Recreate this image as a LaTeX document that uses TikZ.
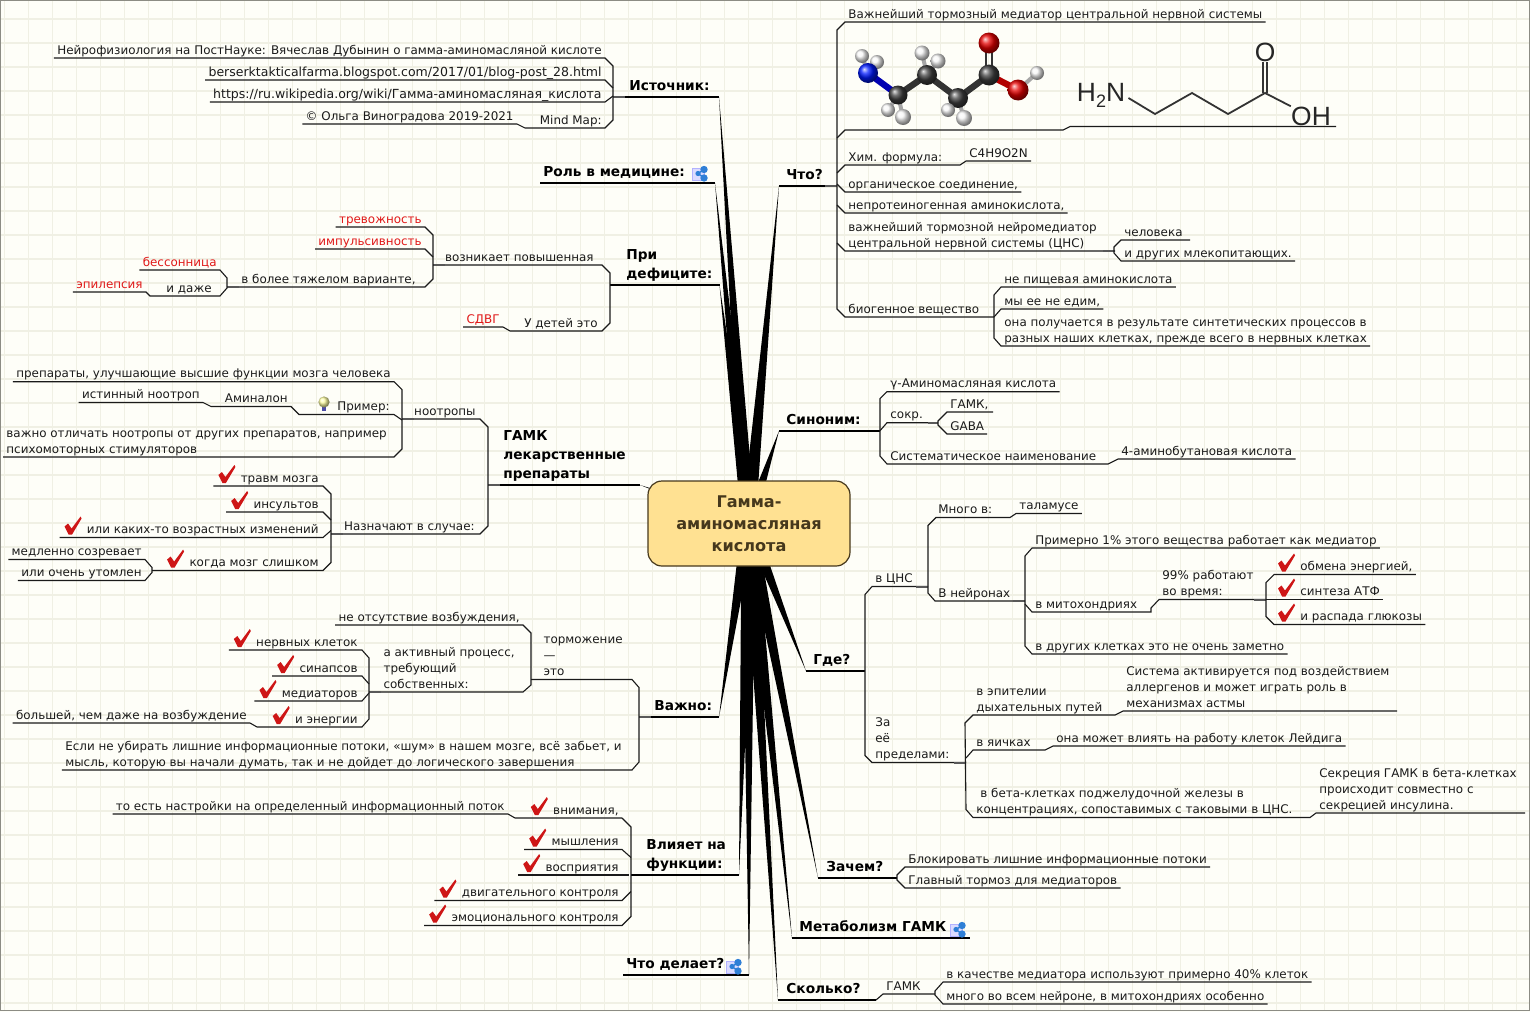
\documentclass[tikz,border=0pt]{standalone}
\usepackage{fontspec}
\setmainfont{DejaVu Sans}
\newfontfamily\chemfont{Liberation Sans}
\usetikzlibrary{calc}

\definecolor{paper}{HTML}{FEFEF8}
\definecolor{gridtone}{HTML}{F0F0E4}
\definecolor{edgegray}{HTML}{8C8C84}
\definecolor{ink}{HTML}{1A1A1A}
\definecolor{alarmred}{HTML}{E01818}
\definecolor{rootfill}{HTML}{FFE192}
\definecolor{rootink}{HTML}{46381C}
\definecolor{linkblue}{HTML}{2F7FD6}

\tikzset{
  leaf/.style={font=\fontsize{5.96}{8}\selectfont, text=ink, inner xsep=1.5pt, inner ysep=0pt, text depth=1.7pt, align=left},
  lleaf/.style={leaf, anchor=south east},
  rleaf/.style={leaf, anchor=south west},
  redleaf/.style={lleaf, text=alarmred},
  urlleaf/.style={lleaf, font=\fontsize{6.26}{8}\selectfont},
  topic/.style={font=\bfseries\fontsize{6.85}{9.6}\selectfont, text=black, inner xsep=1.5pt, inner ysep=0pt, text depth=2.9pt, align=left, anchor=south west},
  rootbox/.style={draw=rootink, line width=0.6pt, fill=rootfill, rounded corners=7pt, minimum width=101pt, minimum height=42.5pt, align=center, text=rootink, font=\bfseries\fontsize{8.05}{11}\selectfont},
  twig/.style={draw=ink, line width=0.55pt},
  stem/.style={draw=black, line width=0.62pt},
  stub/.style={draw=black!65, line width=1pt},
  gridline/.style={draw=gridtone, line width=0.9pt},
  bond/.style={draw=black!80, line width=3.2pt},
  chemline/.style={draw=black!80, line width=0.9pt},
  chemtext/.style={font=\chemfont\fontsize{13.2}{13.2}\selectfont, text=black!85, inner sep=0pt},
  redtick/.pic={\fill[alarmred!92!black] (-18,-10) -- (-14.5,-13) -- (-11,-8) -- (-2,-20) -- (-1,-18) -- (-10.5,-2) -- (-14,-2) -- cycle;},
  shareicon/.pic={
    \fill[blue!14!white, draw=blue!30!white, line width=0.4pt] (0,2) rectangle (12,14);
    \draw[linkblue, line width=0.7pt] (12,3.5) -- (6,7.5) -- (12,12);
    \fill[linkblue] (12,3.5) circle (3.7) (6,7.5) circle (2.6) (12,12) circle (3.7);
  },
  bulbicon/.pic={
    \fill[blue!50!black!70] (-2.2,5) rectangle (2.2,9);
    \shade[ball color=yellow!35!white] (0,0) circle (5.6);
  }
}

\begin{document}
\begin{tikzpicture}[x=0.5pt, y=-0.5pt]
  \useasboundingbox (0,0) rectangle (1530,1012);

  % Paper and grid
  \fill[paper] (0,0) rectangle (1530,1012);
  \foreach \gx in {4.5,28.5,...,1530} {\draw[gridline] (\gx,0) -- (\gx,1010);}
  \foreach \gy in {19.3,43.3,...,1010} {\draw[gridline] (0,\gy) -- (1530,\gy);}
  \draw[edgegray, line width=0.7pt] (0.5,0.5) rectangle (1529.5,1010.5);

  % Where the main branches end
  \coordinate (hub) at (748.5,523);
  \coordinate (srcTip) at (719,97);
  \coordinate (roleTip) at (715,183);
  \coordinate (lackTip) at (719.5,285);
  \coordinate (drugTip) at (640,485);
  \coordinate (mainTip) at (719,717);
  \coordinate (funcTip) at (739,875);
  \coordinate (doesTip) at (749,975);
  \coordinate (whatTip) at (779,186);
  \coordinate (synTip) at (779,431);
  \coordinate (whereTip) at (806,671);
  \coordinate (whyTip) at (818,878);
  \coordinate (metaTip) at (792,938);
  \coordinate (howTip) at (778,1000);

  % Tapered branches, left side
  \fill (srcTip) -- ($(hub)+(-7,0)$) -- ($(hub)+(7,0)$) -- cycle;
  \fill (roleTip) -- ($(hub)+(-7,0)$) -- ($(hub)+(7,0)$) -- cycle;
  \fill (lackTip) -- ($(hub)+(-7,0)$) -- ($(hub)+(7,0)$) -- cycle;
  \fill (drugTip) -- ($(hub)+(0,-5)$) -- ($(hub)+(0,5)$) -- cycle;
  \fill (mainTip) -- ($(hub)+(-7,0)$) -- ($(hub)+(7,0)$) -- cycle;
  \fill (funcTip) -- ($(hub)+(-7,0)$) -- ($(hub)+(7,0)$) -- cycle;
  \fill (doesTip) -- ($(hub)+(-7,0)$) -- ($(hub)+(7,0)$) -- cycle;

  % Tapered branches, right side
  \fill (whatTip) -- ($(hub)+(-7,0)$) -- ($(hub)+(7,0)$) -- cycle;
  \fill (synTip) -- ($(hub)+(-7,0)$) -- ($(hub)+(7,0)$) -- cycle;
  \fill (whereTip) -- ($(hub)+(-7,0)$) -- ($(hub)+(7,0)$) -- cycle;
  \fill (whyTip) -- ($(hub)+(-7,0)$) -- ($(hub)+(7,0)$) -- cycle;
  \fill (metaTip) -- ($(hub)+(-7,0)$) -- ($(hub)+(7,0)$) -- cycle;
  \fill (howTip) -- ($(hub)+(-7,0)$) -- ($(hub)+(7,0)$) -- cycle;

  % Central topic
  \node[rootbox] (root) at (749,523.5) {Гамма-\\аминомасляная\\кислота};

  % Source
  \node[topic] (src) at (626,97) {Источник:};
  \node[lleaf] (srcNeuro) at (605,58) {Нейрофизиология на ПостНауке: Вячеслав Дубынин о гамма-аминомасляной кислоте};
  \node[urlleaf] (srcBlog) at (605,80) {berserktakticalfarma.blogspot.com/2017/01/blog-post\_28.html};
  \node[urlleaf] (srcWiki) at (605,102) {https://ru.wikipedia.org/wiki/Гамма-аминомасляная\_кислота};
  \node[lleaf] (srcMap) at (605,128) {Mind Map:};
  \node[lleaf] (srcAuthor) at (517,124) {© Ольга Виноградова 2019-2021};
  \draw[stem] ($(srcTip)+(-106,0)$) -- (srcTip);
  \draw[stub] ($(srcTip)+(-106,0)$) -- ++(12,0);
  \draw[twig] (srcNeuro.south west) -- (srcNeuro.south east) -- ++(8,8) -- ($(srcMap.south east)+(8,-8)$) -- (srcMap.south east) -- ++(-80,0) -- (srcAuthor.south east) -- (srcAuthor.south west);
  \draw[twig] (srcBlog.south west) -- (srcBlog.south east) -- ++(8,8);
  \draw[twig] (srcWiki.south west) -- (srcWiki.south east) -- ++(8,-6);

  % Role in medicine
  \node[topic] (role) at (540,183) {Роль в медицине:};
  \draw[stem] (role.south west) -- (roleTip);
  \pic at (692,166) {shareicon};

  % Deficit
  \node[topic] (lack) at (623,285) {При\\дефиците:};
  \node[lleaf] (lackRise) at (597,265) {возникает повышенная};
  \node[lleaf] (lackKids) at (601,331) {У детей это};
  \node[redleaf] (lackAdhd) at (503,327) {СДВГ};
  \node[redleaf] (lackFear) at (425,227) {тревожность};
  \node[redleaf] (lackImp) at (425,249) {импульсивность};
  \node[lleaf] (lackHard) at (419,287) {в более тяжелом варианте,};
  \node[redleaf] (lackSleep) at (220,270) {бессонница};
  \node[lleaf] (lackEven) at (215,296) {и даже};
  \node[redleaf] (lackFit) at (146,292) {эпилепсия};
  \draw[stem] ($(lackTip)+(-109.5,0)$) -- (lackTip);
  \draw[twig] ($(lackRise.south east)+(-164,0)$) -- ($(lackRise.south east)+(5,0)$) -- ++(8,8) -- ($(lackKids.south east)+(9,-8)$) -- ($(lackKids.south east)+(1,0)$) -- ++(-92,0) -- (lackAdhd.south east) -- (lackAdhd.south west);
  \draw[stub] ($(lackRise.south east)+(-164,0)$) -- ++(12,0);
  \draw[twig] (lackFear.south west) -- (lackFear.south east) -- ++(8,8) -- ($(lackHard.south east)+(14,-8)$) -- ($(lackHard.south east)+(6,0)$) -- ++(-198,0);
  \draw[stub] ($(lackHard.south east)+(-192,0)$) -- ++(12,0);
  \draw[twig] (lackImp.south west) -- (lackImp.south east) -- ++(8,8);
  \draw[twig] (lackSleep.south west) -- (lackSleep.south east) -- ++(7,8) -- ++(0,10) -- ($(lackEven.south east)+(5,0)$) -- ++(-70,0) -- (lackFit.south east) -- (lackFit.south west);

  % GABA drugs
  \node[topic] (drug) at (500,485) {ГАМК\\лекарственные\\препараты};
  \node[lleaf] (drugNoot) at (479,419) {ноотропы};
  \node[lleaf] (drugCase) at (478,534) {Назначают в случае:};
  \node[lleaf] (nootBest) at (394,381.7) {препараты, улучшающие высшие функции мозга человека};
  \node[lleaf] (nootDemo) at (393,414.5) {Пример:};
  \node[lleaf] (nootAmin) at (291,406.5) {Аминалон};
  \node[lleaf] (nootTrue) at (203,402.5) {истинный ноотроп};
  \node[lleaf] (nootNote) at (390,457) {важно отличать ноотропы от других препаратов, например\\психомоторных стимуляторов};
  \node[lleaf] (caseHurt) at (322,486) {травм мозга};
  \node[lleaf] (caseStroke) at (322,512) {инсультов};
  \node[lleaf] (caseAge) at (322,537.5) {или каких-то возрастных изменений};
  \node[lleaf] (caseTired) at (322,570.5) {когда мозг слишком};
  \node[lleaf] (caseSlow) at (145,559.5) {медленно созревает};
  \node[lleaf] (caseWorn) at (145,580.5) {или очень утомлен};
  \draw[stem] ($(drugTip)+(-152,0)$) -- (drugTip);
  \draw[stub] ($(drugTip)+(-152,0)$) -- ++(12,0);
  \draw[twig] ($(drugNoot.south east)+(-77,0)$) -- ($(drugNoot.south east)+(1,0)$) -- ++(8,8) -- ($(drugCase.south east)+(10,-8)$) -- ($(drugCase.south east)+(2,0)$) -- ++(-149,0);
  \draw[stub] ($(drugNoot.south east)+(-77,0)$) -- ++(12,0);
  \draw[stub] ($(drugCase.south east)+(-147,0)$) -- ++(12,0);
  \draw[twig] (nootBest.south west) -- (nootBest.south east) -- ++(8,8) -- ($(nootNote.south east)+(12,-8)$) -- ($(nootNote.south east)+(4,0)$) -- (nootNote.south west);
  \draw[twig] ($(nootDemo.south east)+(9,5.5)$) -- ($(nootDemo.south east)+(1,0)$) -- ++(-95,0) -- (nootAmin.south east) -- ++(-80,0) -- (nootTrue.south east) -- (nootTrue.south west);
  \pic at (324,402) {bulbicon};
  \draw[twig] ($(caseHurt.south west)+(-24,0)$) -- ($(caseHurt.south east)+(1,0)$) -- ++(8,8) -- ($(caseTired.south east)+(9,-8)$) -- ($(caseTired.south east)+(1,0)$) -- ++(-171,0);
  \draw[twig] ($(caseStroke.south west)+(-24,0)$) -- ($(caseStroke.south east)+(1,0)$) -- ++(8,8);
  \draw[twig] ($(caseAge.south west)+(-24,0)$) -- ($(caseAge.south east)+(1,0)$) -- ++(8,-7);
  \draw[twig] (caseSlow.south west) -- (caseSlow.south east) -- ++(7,8) -- ++(0,5) -- (caseWorn.south east) -- (caseWorn.south west);
  \pic at ($(caseHurt.south west)+(-1,-1)$) {redtick};
  \pic at ($(caseStroke.south west)+(-1,-1)$) {redtick};
  \pic at ($(caseAge.south west)+(-1,-1)$) {redtick};
  \pic at ($(caseTired.south west)+(-1,-1)$) {redtick};

  % Important
  \node[topic] (main) at (651,717) {Важно:};
  \node[lleaf] (mainBrake) at (626,679.5) {торможение\\—\\это};
  \node[lleaf] (mainNoise) at (625,770) {Если не убирать лишние информационные потоки, «шум» в нашем мозге, всё забьет, и\\мысль, которую вы начали думать, так и не дойдет до логического завершения};
  \node[lleaf] (brakeNot) at (523,625) {не отсутствие возбуждения,};
  \node[lleaf] (brakeAct) at (518,692) {а активный процесс,\\требующий\\собственных:};
  \node[lleaf] (actCell) at (361,650) {нервных клеток};
  \node[lleaf] (actSyn) at (361,676) {синапсов};
  \node[lleaf] (actMed) at (361,701) {медиаторов};
  \node[lleaf] (actPow) at (361,727) {и энергии};
  \node[lleaf] (actMore) at (250,723) {большей, чем даже на возбуждение};
  \draw[stem] ($(mainTip)+(-80,0)$) -- (mainTip);
  \draw[stub] ($(mainTip)+(-80,0)$) -- ++(12,0);
  \draw[twig] ($(mainBrake.south east)+(-95,0)$) -- ($(mainBrake.south east)+(6,0)$) -- ++(7,8) -- ($(mainNoise.south east)+(14,-8)$) -- ($(mainNoise.south east)+(7,0)$) -- (mainNoise.south west);
  \draw[twig] (brakeNot.south west) -- (brakeNot.south east) -- ++(8,8) -- ($(brakeAct.south east)+(13,-7)$) -- ($(brakeAct.south east)+(5,0)$) -- ++(-154,0);
  \draw[stub] ($(brakeAct.south east)+(-149,0)$) -- ++(12,0);
  \draw[twig] ($(actCell.south west)+(-24,0)$) -- ($(actCell.south east)+(1,0)$) -- ++(7,8) -- ($(actPow.south east)+(8,-8)$) -- ($(actPow.south east)+(1,0)$) -- ++(-105,0) -- (actMore.south east) -- (actMore.south west);
  \draw[twig] ($(actSyn.south west)+(-24,0)$) -- ($(actSyn.south east)+(1,0)$) -- ++(7,8);
  \draw[twig] ($(actMed.south west)+(-24,0)$) -- ($(actMed.south east)+(1,0)$) -- ++(7,-8);
  \pic at ($(actCell.south west)+(-1,-1)$) {redtick};
  \pic at ($(actSyn.south west)+(-1,-1)$) {redtick};
  \pic at ($(actMed.south west)+(-1,-1)$) {redtick};
  \pic at ($(actPow.south west)+(-1,-1)$) {redtick};

  % Affects functions
  \node[topic] (func) at (643,875) {Влияет на\\функции:};
  \node[lleaf] (funcFocus) at (622,818) {внимания,};
  \node[lleaf] (funcThink) at (622,849.5) {мышления};
  \node[lleaf] (funcSense) at (622,875) {восприятия};
  \node[lleaf] (funcMove) at (622,900.5) {двигательного контроля};
  \node[lleaf] (funcMood) at (622,925.5) {эмоционального контроля};
  \node[lleaf] (funcFlow) at (508,814) {то есть настройки на определенный информационный поток};
  \draw[stem] ($(funcTip)+(-108,0)$) -- (funcTip);
  \draw[twig] (funcFocus.south east) -- ++(-107,0) -- (funcFlow.south east) -- (funcFlow.south west);
  \draw[twig] (funcFocus.south east) -- ++(9,9) -- ($(funcMood.south east)+(9,-9)$) -- (funcMood.south east) -- ($(funcMood.south west)+(-24,0)$);
  \draw[twig] ($(funcThink.south west)+(-24,0)$) -- (funcThink.south east) -- ++(9,8);
  \draw[twig] ($(funcSense.south west)+(-24,0)$) -- ++(111,0);
  \draw[twig] ($(funcMove.south west)+(-24,0)$) -- (funcMove.south east) -- ++(9,-9);
  \pic at ($(funcFocus.south west)+(-1,-1)$) {redtick};
  \pic at ($(funcThink.south west)+(-1,-1)$) {redtick};
  \pic at ($(funcSense.south west)+(-1,-1)$) {redtick};
  \pic at ($(funcMove.south west)+(-1,-1)$) {redtick};
  \pic at ($(funcMood.south west)+(-1,-1)$) {redtick};

  % What it does
  \node[topic] (does) at (623,975) {Что делает?};
  \draw[stem] (does.south west) -- (doesTip);
  \pic at (726,959) {shareicon};

  % What is it
  \node[topic] (what) at (783,186) {Что?};
  \node[rleaf] (whatHead) at (845,22) {Важнейший тормозный медиатор центральной нервной системы};
  \coordinate (whatPicEnd) at (1336,126.5);
  \node[rleaf] (whatForm) at (845,165) {Хим. формула:};
  \node[rleaf] (whatCode) at (966,161) {C4H9O2N};
  \node[rleaf] (whatOrg) at (845,192) {органическое соединение,};
  \node[rleaf] (whatAcid) at (845,213) {непротеиногенная аминокислота,};
  \node[rleaf] (whatMed) at (845,251) {важнейший тормозной нейромедиатор\\центральной нервной системы (ЦНС)};
  \node[rleaf] (medHuman) at (1121,240) {человека};
  \node[rleaf] (medOther) at (1121,261) {и других млекопитающих.};
  \node[rleaf] (whatBio) at (845,317) {биогенное вещество};
  \node[rleaf] (bioFood) at (1001,287) {не пищевая аминокислота};
  \node[rleaf] (bioEat) at (1001,309) {мы ее не едим,};
  \node[rleaf] (bioMade) at (1001,346) {она получается в результате синтетических процессов в\\разных наших клетках, прежде всего в нервных клетках};
  \draw[stem] (whatTip) -- ++(58,0);
  \draw[stub] ($(whatTip)+(46,0)$) -- ++(12,0);
  \draw[twig] (whatHead.south east) -- (whatHead.south west) -- ++(-8,8) -- ($(whatBio.south west)+(-8,-8)$) -- (whatBio.south west) -- ++(149,0);
  \draw[twig] (whatPicEnd) -- ++(-266,0) -- ++(-7,3.5) -- ++(-218,0) -- ++(-8,8);
  \draw[twig] (whatCode.south east) -- (whatCode.south west) -- ++(-6,4) -- (whatForm.south west) -- ++(-8,8);
  \draw[twig] (whatOrg.south east) -- (whatOrg.south west) -- ++(-8,-8);
  \draw[twig] (whatAcid.south east) -- (whatAcid.south west) -- ++(-8,-8);
  \draw[twig] ($(whatMed.south west)+(270,0)$) -- (whatMed.south west) -- ++(-8,-8);
  \draw[stub] ($(whatMed.south west)+(258,0)$) -- ++(12,0);
  \draw[twig] ($(medHuman.south west)+(69,0)$) -- (medHuman.south west) -- ++(-7,7) -- ++(0,6) -- (medOther.south west) -- (medOther.south east);
  \draw[twig] (bioFood.south east) -- (bioFood.south west) -- ++(-7,8) -- ($(bioMade.south west)+(-7,-8)$) -- (bioMade.south west) -- (bioMade.south east);
  \draw[twig] (bioEat.south east) -- (bioEat.south west) -- ++(-7,8);

  % Ball and stick model
  \draw[bond, blue!70!black] (868,73) -- (898,95);
  \draw[bond] (898,95) -- (927,75) -- (958,98) -- (989,75);
  \draw[bond, line width=1.2pt] (986,75) -- (986,45) (992,75) -- (992,45);
  \draw[bond, red!70!black] (989,75) -- (1018,90);
  \draw[bond, black!35, line width=2pt] (868,73) -- (862,56) (868,73) -- (877,62) (898,95) -- (888,110) (898,95) -- (903,117) (927,75) -- (922,53) (927,75) -- (938,61) (958,98) -- (948,110) (958,98) -- (964,118) (1018,90) -- (1037,73);
  \shade[ball color=black!4] (862,56) circle (7);
  \shade[ball color=black!4] (877,62) circle (7);
  \shade[ball color=blue!90!cyan] (868,73) circle (10);
  \shade[ball color=black!75] (898,95) circle (9.5);
  \shade[ball color=black!4] (888,110) circle (7);
  \shade[ball color=black!4] (903,117) circle (8);
  \shade[ball color=black!75] (927,75) circle (10);
  \shade[ball color=black!4] (922,53) circle (7.5);
  \shade[ball color=black!4] (938,61) circle (7.5);
  \shade[ball color=black!75] (958,98) circle (10);
  \shade[ball color=black!4] (948,110) circle (7);
  \shade[ball color=black!4] (964,118) circle (8);
  \shade[ball color=black!75] (989,75) circle (10.5);
  \shade[ball color=red!90!black] (989,43) circle (10.5);
  \shade[ball color=red!90!black] (1018,90) circle (10.5);
  \shade[ball color=black!4] (1037,73) circle (7);

  % Skeletal formula
  \node[chemtext] (amino) at (1101,95) {H\raisebox{-3pt}{\fontsize{9}{9}\selectfont 2}N};
  \node[chemtext] (oxo) at (1265,52) {O};
  \node[chemtext] (hydroxy) at (1311,116) {OH};
  \draw[chemline] (amino.east) ++(3,3) -- (1155,114) -- (1192,93) -- (1228,114) -- (1265,93) -- (hydroxy.north west);
  \draw[chemline] (1263,93) -- (oxo.south -| 1263,0) (1267,93) -- (oxo.south -| 1267,0);

  % Synonyms
  \node[topic] (syn) at (783,431) {Синоним:};
  \node[rleaf] (synGamma) at (887,391.7) {γ-Аминомасляная кислота};
  \node[rleaf] (synAbbr) at (887,422.7) {сокр.};
  \node[rleaf] (abbrRu) at (947,412) {ГАМК,};
  \node[rleaf] (abbrEn) at (947,434) {GABA};
  \node[rleaf] (synSys) at (887,464) {Систематическое наименование};
  \node[rleaf] (synIupac) at (1118,459) {4-аминобутановая кислота};
  \draw[stem] (synTip) -- ++(101,0);
  \draw[twig] (synGamma.south east) -- (synGamma.south west) -- ++(-7,7) -- ($(synSys.south west)+(-7,-8)$) -- (synSys.south west) -- ++(221,0) -- (synIupac.south west) -- (synIupac.south east);
  \draw[twig] ($(synAbbr.south west)+(-7,8)$) -- (synAbbr.south west) -- ++(51,0);
  \draw[stub] ($(synAbbr.south west)+(41,0)$) -- ++(10,0);
  \draw[twig] ($(abbrRu.south west)+(46,0)$) -- (abbrRu.south west) -- ++(-9,9) -- ++(0,4) -- (abbrEn.south west) -- ++(40,0);

  % Where
  \node[topic] (where) at (810,671) {Где?};
  \node[rleaf] (whereCns) at (872,586.5) {в ЦНС};
  \node[rleaf] (whereOut) at (872,762.5) {За\\её\\пределами:};
  \node[rleaf] (cnsMany) at (935,517.5) {Много в:};
  \node[rleaf] (cnsThal) at (1016,513.5) {таламусе};
  \node[rleaf] (cnsNeur) at (935,601) {В нейронах};
  \node[rleaf] (neurPct) at (1032,548) {Примерно 1\% этого вещества работает как медиатор};
  \node[rleaf] (neurMito) at (1032,612) {в митохондриях};
  \node[rleaf] (neurRest) at (1032,654) {в других клетках это не очень заметно};
  \node[rleaf] (mitoTime) at (1159,599.5) {99\% работают\\во время:};
  \node[rleaf] (timeEnergy) at (1297,574.5) {обмена энергией,};
  \node[rleaf] (timeAtp) at (1297,599.5) {синтеза АТФ};
  \node[rleaf] (timeGluc) at (1297,624.5) {и распада глюкозы};
  \node[rleaf] (outLung) at (973,715) {в эпителии\\дыхательных путей};
  \node[rleaf] (outAsthma) at (1123,711) {Система активируется под воздействием\\аллергенов и может играть роль в\\механизмах астмы};
  \node[rleaf] (outTest) at (973,750) {в яичках};
  \node[rleaf] (outLeydig) at (1053,746) {она может влиять на работу клеток Лейдига};
  \node[rleaf] (outBeta) at (973,817.5) {\hspace*{2pt}в бета-клетках поджелудочной железы в\\концентрациях, сопоставимых с таковыми в ЦНС.};
  \node[rleaf] (outInsulin) at (1316,813) {Секреция ГАМК в бета-клетках\\происходит совместно с\\секрецией инсулина.};
  \draw[stem] (whereTip) -- ++(59,0);
  \draw[twig] ($(whereCns.south west)+(56,0)$) -- (whereCns.south west) -- ++(-7,8) -- ($(whereOut.south west)+(-7,-7)$) -- (whereOut.south west) -- ++(94,0);
  \draw[stub] ($(whereCns.south west)+(44,0)$) -- ++(12,0);
  \draw[stub] ($(whereOut.south west)+(82,0)$) -- ++(12,0);
  \draw[twig] (cnsThal.south east) -- (cnsThal.south west) -- ++(-6,4) -- ++(-74,0) -- ++(-8,8) -- ($(cnsNeur.south west)+(-7,-8)$) -- (cnsNeur.south west) -- ++(90,0);
  \draw[stub] ($(cnsNeur.south west)+(78,0)$) -- ++(12,0);
  \draw[twig] (neurPct.south east) -- (neurPct.south west) -- ++(-7,8) -- ($(neurRest.south west)+(-7,-8)$) -- (neurRest.south west) -- (neurRest.south east);
  \draw[twig] ($(neurMito.south west)+(-7,-8)$) -- (neurMito.south west) -- ++(119,0) -- ++(0,-4) -- ++(8,-8.5) -- ++(107,0);
  \draw[stub] ($(mitoTime.south west)+(95,0)$) -- ++(12,0);
  \draw[twig] (timeEnergy.south east) -- ($(timeEnergy.south west)+(-23,0)$) -- ++(-8,8) -- ($(timeGluc.south west)+(-31,-8)$) -- ($(timeGluc.south west)+(-23,0)$) -- (timeGluc.south east);
  \draw[twig] ($(timeAtp.south west)+(-31,0)$) -- (timeAtp.south east);
  \pic at ($(timeEnergy.south west)+(-1,-1)$) {redtick};
  \pic at ($(timeAtp.south west)+(-1,-1)$) {redtick};
  \pic at ($(timeGluc.south west)+(-1,-1)$) {redtick};
  \draw[twig] ($(outAsthma.south west)+(274,0)$) -- (outAsthma.south west) -- ++(-8,4) -- (outLung.south west) -- ++(-8,8) -- ($(outBeta.south west)+(-7,-8)$) -- (outBeta.south west) -- ++(337,0) -- (outInsulin.south west) -- ++(209,0);
  \draw[twig] (outLeydig.south east) -- (outLeydig.south west) -- ++(-8,4) -- (outTest.south west) -- ++(-7,8);

  % Why
  \node[topic] (why) at (823,878) {Зачем?};
  \node[rleaf] (whyBlock) at (905,867) {Блокировать лишние информационные потоки};
  \node[rleaf] (whyBrake) at (905,888) {Главный тормоз для медиаторов};
  \draw[stem] (whyTip) -- ++(79,0);
  \draw[twig] (whyBlock.south east) -- (whyBlock.south west) -- ++(-8,8) -- ++(0,5) -- (whyBrake.south west) -- (whyBrake.south east);

  % Metabolism
  \node[topic] (meta) at (796,938) {Метаболизм ГАМК};
  \draw[stem] (metaTip) -- ++(178,0);
  \pic at (950,922) {shareicon};

  % How much
  \node[topic] (how) at (783,1000) {Сколько?};
  \node[rleaf] (howGaba) at (883,994) {ГАМК};
  \node[rleaf] (howMed) at (943,982) {в качестве медиатора используют примерно 40\% клеток};
  \node[rleaf] (howMore) at (943,1004) {много во всем нейроне, в митохондриях особенно};
  \draw[stem] (howTip) -- ++(98,0);
  \draw[twig] ($(howTip)+(98,0)$) -- (howGaba.south west) -- ++(52,0);
  \draw[twig] (howMed.south east) -- (howMed.south west) -- ++(-8,9) -- ++(0,4) -- (howMore.south west) -- (howMore.south east);
\end{tikzpicture}
\end{document}
